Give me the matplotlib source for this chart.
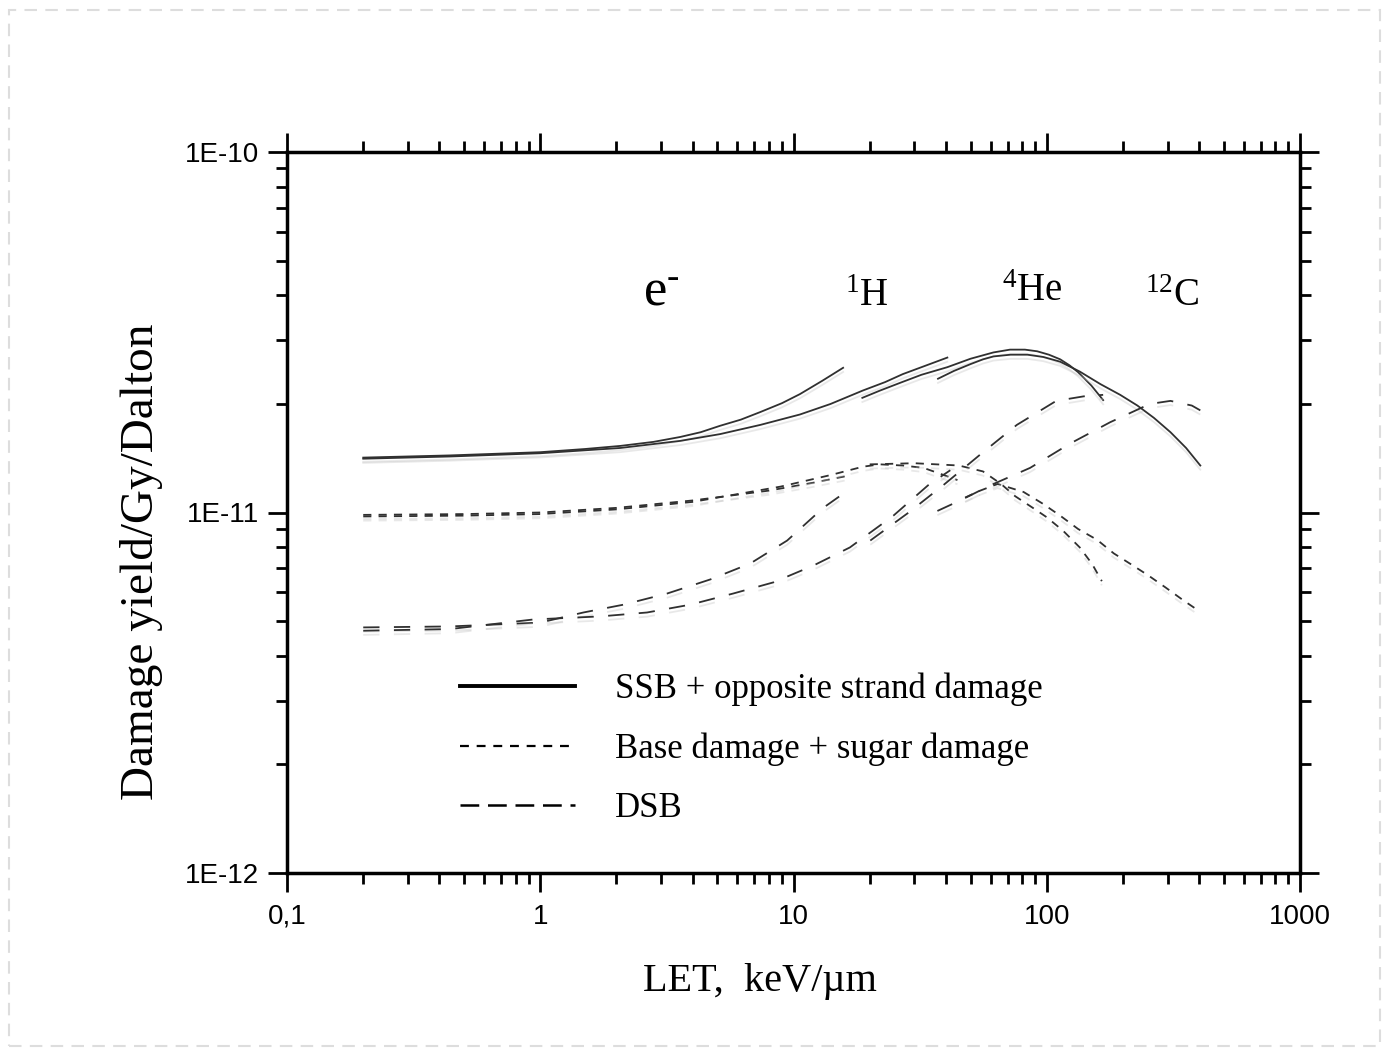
import numpy as np
import matplotlib
matplotlib.use('Agg')
from matplotlib import pyplot as plt
from matplotlib.lines import Line2D
from matplotlib.patches import Rectangle
from matplotlib.ticker import LogLocator, FixedLocator, FixedFormatter, NullFormatter
import matplotlib.patheffects as pe

# LET (keV/um) and yield (x1e-11 per Gy per Dalton)

# SSB + opposite strand damage (solid)
ssb_e_x = [0.2, 0.44, 1.0, 1.5, 2.07, 2.8, 3.57, 4.3, 5.13, 6.2, 7.4, 9, 10.6, 13, 15.7]
ssb_e_y = [1.42, 1.44, 1.47, 1.50, 1.53, 1.57, 1.62, 1.67, 1.74, 1.81, 1.90, 2.01, 2.13, 2.32, 2.52]
ssb_h_x = [0.2, 0.44, 1.0, 2.07, 3.57, 5.13, 7.4, 10.6, 14, 18.8, 23, 27, 33, 40.5]
ssb_h_y = [1.41, 1.43, 1.46, 1.51, 1.58, 1.65, 1.75, 1.87, 2.0, 2.18, 2.30, 2.42, 2.55, 2.69]
ssb_he_x = [18.7, 22, 26.4, 32, 40.5, 50, 61.6, 71.6, 82, 91.7, 102, 113, 123, 133, 150, 167]
ssb_he_y = [2.08, 2.18, 2.29, 2.41, 2.53, 2.67, 2.78, 2.83, 2.83, 2.80, 2.74, 2.66, 2.56, 2.45, 2.25, 2.05]
ssb_c_x = [37.2, 43, 50, 56, 61.6, 72, 83.9, 97, 113, 135, 163, 195, 228, 265, 308, 355, 404]
ssb_c_y = [2.35, 2.47, 2.58, 2.66, 2.71, 2.74, 2.74, 2.70, 2.62, 2.46, 2.27, 2.12, 1.98, 1.83, 1.67, 1.51, 1.35]

# base damage + sugar damage (short dash)
base_e_x = [0.2, 0.5, 1, 2, 4, 8, 12, 16]
base_e_y = [0.985, 0.99, 1.0, 1.03, 1.08, 1.15, 1.21, 1.26]
base_h_x = [0.2, 0.5, 1, 2, 4, 8.9, 14, 18.8, 22, 27, 32.6, 40.5, 44.4]
base_h_y = [0.975, 0.98, 0.99, 1.02, 1.07, 1.18, 1.27, 1.34, 1.36, 1.35, 1.33, 1.26, 1.23]
base_he_x = [20, 30, 45, 56, 66, 75, 90, 100, 116, 135, 151, 165]
base_he_y = [1.36, 1.37, 1.35, 1.30, 1.20, 1.11, 1.02, 0.97, 0.89, 0.80, 0.72, 0.645]
base_c_x = [47.6, 54.6, 64, 81, 96, 113, 133, 158, 184, 214, 251, 294, 347, 404]
base_c_y = [1.10, 1.15, 1.20, 1.14, 1.06, 0.98, 0.90, 0.84, 0.77, 0.72, 0.67, 0.62, 0.57, 0.53]

# DSB (long dash)
dsb_e_x = [0.2, 0.44, 1.0, 1.48, 2.13, 3.17, 4.69, 6.75, 9.44, 13.1, 15.5]
dsb_e_y = [0.48, 0.483, 0.495, 0.528, 0.555, 0.596, 0.652, 0.722, 0.836, 1.03, 1.12]
dsb_h_x = [0.2, 0.44, 0.94, 1.73, 2.64, 3.91, 5.78, 8.33, 12.0, 16.7, 24.8, 34.0, 41.6]
dsb_h_y = [0.47, 0.475, 0.505, 0.515, 0.528, 0.555, 0.596, 0.640, 0.713, 0.80, 0.98, 1.19, 1.31]
dsb_he_x = [20.1, 28.5, 39.0, 55.4, 76.2, 109, 140, 167]
dsb_he_y = [0.836, 1.0, 1.19, 1.46, 1.75, 2.04, 2.10, 2.12]
dsb_c_x = [37, 45.5, 60, 86, 123, 178, 255, 308, 374, 404]
dsb_c_y = [1.01, 1.08, 1.19, 1.33, 1.55, 1.78, 2.0, 2.04, 1.98, 1.92]

particle_labels = ['$\\mathrm{e^{\u2010}}$', r'$\mathrm{^{1}H}$', r'$\mathrm{^{4}He}$', r'$\mathrm{^{12}C}$']
particle_let = [3.0, 19.5, 88, 313]
particle_y = [3.75e-11, 3.75e-11, 3.85e-11, 3.75e-11]
particle_size = [38, 28, 28, 28]

x_ticks = [0.1, 1, 10, 100, 1000]
x_tick_labels = ['0,1', '1', '10', '100', '1000']
y_ticks = [1e-12, 1e-11, 1e-10]
y_tick_labels = ['1E-12', '1E-11', '1E-10']
legend_labels = ['SSB + opposite strand damage', 'Base damage + sugar damage', 'DSB']

plt.rcParams['mathtext.fontset'] = 'custom'
plt.rcParams['mathtext.rm'] = 'Liberation Serif'
plt.rcParams['mathtext.it'] = 'Liberation Serif:italic'

fig = plt.figure(figsize=(13.9, 10.56), dpi=100)
ax = fig.add_axes([287 / 1390, 1 - 873 / 1056, 1013 / 1390, 721 / 1056])

# page border of the scan
fig.patches.append(Rectangle((9 / 1390, 10 / 1056), 1371 / 1390, 1036 / 1056,
                             transform=fig.transFigure, fill=False,
                             ec='#dddddd', lw=1.5, ls=(0, (6, 4))))

col = '#303030'
shadow = [pe.SimpleLineShadow(offset=(0, -3), shadow_color='0.75', alpha=0.35), pe.Normal()]
scale = 1e-11


def draw(xs, ys, dashes=None, lw=1.3):
    line, = ax.plot(xs, np.array(ys) * scale, color=col, lw=lw, path_effects=shadow)
    if dashes is not None:
        line.set_dashes(dashes)


for xs, ys in [(ssb_e_x, ssb_e_y), (ssb_h_x, ssb_h_y), (ssb_he_x, ssb_he_y), (ssb_c_x, ssb_c_y)]:
    draw(xs, ys)
for xs, ys in [(base_e_x, base_e_y), (base_h_x, base_h_y), (base_he_x, base_he_y), (base_c_x, base_c_y)]:
    draw(xs, ys, dashes=(4.5, 4))
for xs, ys in [(dsb_e_x, dsb_e_y), (dsb_h_x, dsb_h_y), (dsb_he_x, dsb_he_y), (dsb_c_x, dsb_c_y)]:
    draw(xs, ys, dashes=(9, 8))

for lab, lx, ly, fs in zip(particle_labels, particle_let, particle_y, particle_size):
    ax.text(lx, ly, lab, fontsize=fs, ha='center', va='baseline')

ax.set_xscale('log')
ax.set_yscale('log')
ax.set_xlim(0.1, 1000)
ax.set_ylim(1e-12, 1e-10)

ax.xaxis.set_major_locator(FixedLocator(x_ticks))
ax.xaxis.set_major_formatter(FixedFormatter(x_tick_labels))
ax.xaxis.set_minor_locator(LogLocator(base=10, subs=np.arange(2, 10)))
ax.xaxis.set_minor_formatter(NullFormatter())
ax.yaxis.set_major_locator(FixedLocator(y_ticks))
ax.yaxis.set_major_formatter(FixedFormatter(y_tick_labels))
ax.yaxis.set_minor_locator(LogLocator(base=10, subs=np.arange(2, 10)))
ax.yaxis.set_minor_formatter(NullFormatter())

ax.tick_params(which='both', direction='out', top=True, right=True, width=2, color='black')
ax.tick_params(which='major', length=14, pad=6)
ax.tick_params(which='minor', length=8)
ax.tick_params(axis='x', which='major', top=True, labeltop=False)
ax.tick_params(axis='y', which='minor', length=8)
ax.tick_params(axis='x', which='major', pad=8)
for s in ax.spines.values():
    s.set_linewidth(2.5)

for t in ax.get_yticklabels():
    t.set_fontfamily(['Liberation Sans', 'DejaVu Sans'])
    t.set_fontsize(20)
for t in ax.get_xticklabels():
    t.set_fontfamily(['Liberation Sans Narrow', 'Liberation Sans', 'DejaVu Sans'])
    t.set_fontsize(20)

ax.set_xlabel('LET,  keV/\u00b5m', fontsize=29, family='Liberation Serif')
ax.xaxis.set_label_coords(0.467, -0.125)
ax.set_ylabel('Damage yield/Gy/Dalton', fontsize=34, family='Liberation Serif')
ax.yaxis.set_label_coords(-0.122, 0.431)

handles = [Line2D([], [], color='black', lw=2.8),
           Line2D([], [], color='black', lw=1.6, dashes=(4, 3.5)),
           Line2D([], [], color='black', lw=1.8, dashes=(7.5, 3.5))]
ax.legend(handles, legend_labels, loc='upper left', frameon=False,
          bbox_to_anchor=(460 / 1390, 1 - 673 / 1056), bbox_transform=fig.transFigure,
          prop={'family': 'Liberation Serif', 'size': 25},
          handlelength=3.3, handletextpad=1.15, labelspacing=0.75,
          borderpad=0, borderaxespad=0)

fig.savefig('out.png', dpi=100, facecolor='white')
